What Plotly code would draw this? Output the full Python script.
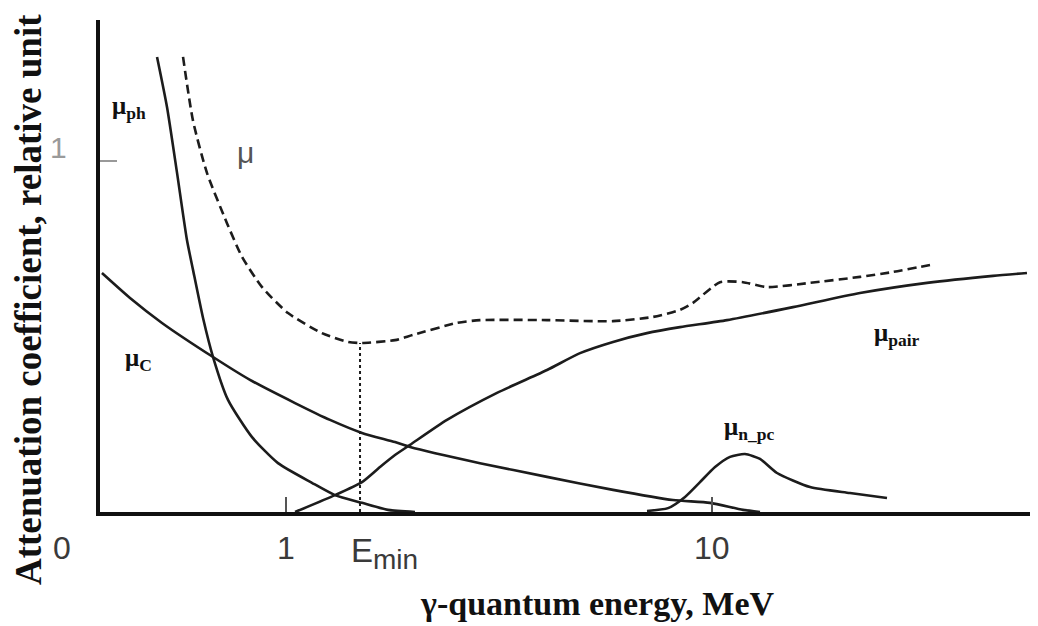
import plotly.graph_objects as go

# ---- data (relative units) ----
ph_x = [6.10, 7.17, 8.24, 9.30, 9.95, 11.02, 12.09, 13.69, 16.26, 19.04, 22.67, 25.13, 28.02, 30.80, 33.69]
ph_y = [1.295, 1.152, 0.965, 0.774, 0.689, 0.552, 0.441, 0.319, 0.213, 0.139, 0.083, 0.048, 0.026, 0.006, 0.0]

mu_x = [8.88, 9.95, 11.44, 13.58, 15.19, 17.33, 20.11, 23.74, 26.52, 28.02, 31.55, 33.48, 38.18, 40.64,
        47.81, 54.87, 59.14, 62.03, 63.42, 66.31, 68.77, 71.34, 75.94, 81.28, 84.81, 88.77]
mu_y = [1.295, 1.113, 0.965, 0.822, 0.726, 0.640, 0.566, 0.509, 0.484, 0.481, 0.489, 0.504, 0.538, 0.546,
        0.546, 0.543, 0.555, 0.575, 0.595, 0.654, 0.654, 0.640, 0.652, 0.669, 0.683, 0.703]

pair_x = [20.86, 25.13, 28.02, 29.95, 31.55, 33.16, 37.11, 42.46, 47.81, 51.34, 54.87, 58.50, 62.03,
          67.06, 74.12, 81.28, 88.45, 95.51, 99.14]
pair_y = [0.0, 0.048, 0.085, 0.128, 0.162, 0.191, 0.262, 0.339, 0.404, 0.452, 0.484, 0.509, 0.526,
          0.546, 0.583, 0.623, 0.652, 0.672, 0.680]

c_x = [0.21, 3.21, 6.63, 12.09, 16.04, 20.86, 24.60, 28.02, 31.55, 33.16, 40.64, 47.81, 54.87, 61.28,
       65.24, 68.77, 70.59]
c_y = [0.680, 0.609, 0.538, 0.441, 0.376, 0.310, 0.262, 0.225, 0.199, 0.185, 0.139, 0.100, 0.063, 0.034,
       0.026, 0.006, 0.0]

npc_x = [58.50, 60.75, 62.57, 64.17, 65.78, 67.38, 68.98, 70.59, 72.41, 75.94, 80.21, 84.17]
npc_y = [0.003, 0.011, 0.043, 0.085, 0.128, 0.157, 0.165, 0.151, 0.111, 0.071, 0.054, 0.040]

e_min_x = 27.81
e_min_y = 0.481

x_tick_vals = [19.89, 65.45]
x_tick_text = ["1", "10"]
y_tick_vals = [1.0]

X_RANGE = [0, 100]
Y_RANGE = [0, 1.4]

LINE = "#1c1c1c"

fig = go.Figure()

def curve(x, y, dash="solid", width=2.6):
    fig.add_trace(go.Scatter(x=x, y=y, mode="lines",
                             line=dict(color=LINE, width=width, dash=dash, shape="spline", smoothing=0.6),
                             hoverinfo="skip", showlegend=False))

curve(ph_x, ph_y)
curve(c_x, c_y)
curve(pair_x, pair_y)
curve(npc_x, npc_y)
curve(mu_x, mu_y, dash="9px,5px", width=2.6)

# E_min dotted marker line
fig.add_trace(go.Scatter(x=[e_min_x, e_min_x], y=[0, e_min_y], mode="lines",
                         line=dict(color=LINE, width=2, dash="3px,3px"),
                         hoverinfo="skip", showlegend=False))

serif = "Liberation Serif, Times New Roman, serif"
sans = "Liberation Sans, Arial, sans-serif"

def ann(x, y, text, size, color="#111", family=serif, xanchor="center", yanchor="middle", angle=0):
    # x, y given in data units; converted to paper fractions so labels outside the axes still show
    px = (x - X_RANGE[0]) / (X_RANGE[1] - X_RANGE[0])
    py = (y - Y_RANGE[0]) / (Y_RANGE[1] - Y_RANGE[0])
    fig.add_annotation(x=px, y=py, xref="paper", yref="paper", text=text, showarrow=False,
                       font=dict(family=family, size=size, color=color),
                       xanchor=xanchor, yanchor=yanchor, textangle=angle)

# curve labels
ann(1.07, 1.150, "<b>μ<sub>ph</sub></b>", 25, xanchor="left")
ann(15.61, 1.022, "μ", 30, color="#555555", family=sans)
ann(2.46, 0.433, "<b>μ<sub>C</sub></b>", 25, xanchor="left")
ann(82.57, 0.504, "<b>μ<sub>pair</sub></b>", 25, xanchor="left")
ann(66.52, 0.239, "<b>μ<sub>n_pc</sub></b>", 25, xanchor="left")

# axis tick labels
TICKC = "#3a3a3a"
ann(-4.06, -0.102, "0", 32, color=TICKC, family=sans)
ann(x_tick_vals[0], -0.102, x_tick_text[0], 32, color=TICKC, family=sans)
ann(x_tick_vals[1], -0.102, x_tick_text[1], 32, color=TICKC, family=sans)
ann(26.60, -0.118, "E<sub><span style='font-size:28px'>min</span></sub>", 33, color=TICKC, family=sans,
    xanchor="left")
ann(-4.49, 1.036, "1", 30, color="#9a9a9a", family=sans)

# axis titles
ann(53.16, -0.259, "<b>γ-quantum energy, MeV</b>", 34)
ann(-7.70, 0.603, "<b>Attenuation coefficient, relative unit</b>", 37, angle=-90)

fig.update_xaxes(range=X_RANGE, showgrid=False, zeroline=False, showline=True, linecolor="#111",
                 linewidth=4, ticks="inside", ticklen=15, tickwidth=2, tickcolor="#555",
                 tickvals=x_tick_vals, showticklabels=False, fixedrange=True)
fig.update_yaxes(range=Y_RANGE, showgrid=False, zeroline=False, showline=True, linecolor="#111",
                 linewidth=4, ticks="inside", ticklen=17, tickwidth=2, tickcolor="#999",
                 tickvals=y_tick_vals, showticklabels=False, fixedrange=True)

# page body has an 8px default margin, so the figure is sized/offset to compensate
fig.update_layout(width=1030, height=618, margin=dict(l=92, r=3, t=12, b=114),
                  paper_bgcolor="white", plot_bgcolor="white", showlegend=False)

fig.write_html("out.html")
